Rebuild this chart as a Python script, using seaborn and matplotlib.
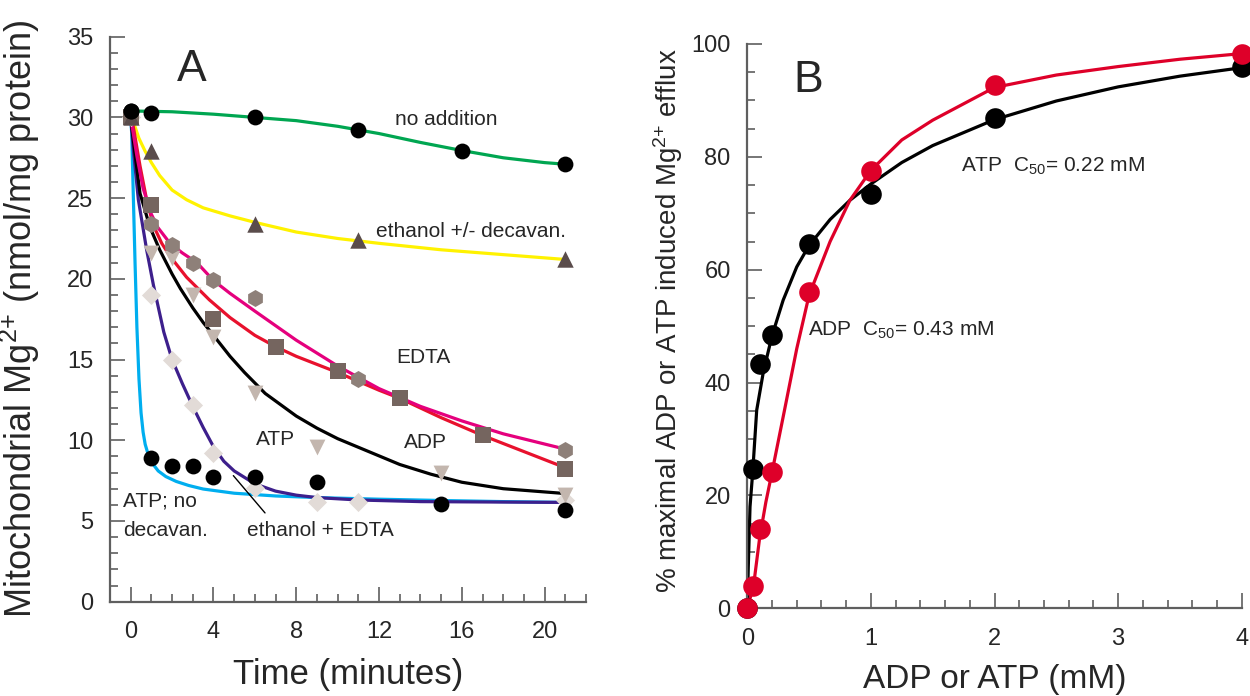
import numpy as np
import pandas as pd
import seaborn as sns
import matplotlib.pyplot as plt
from matplotlib.ticker import MultipleLocator

sns.set_style('ticks')
plt.rcParams['font.family'] = ['Liberation Sans', 'DejaVu Sans']
plt.rcParams['mathtext.default'] = 'regular'

# ---------------- panel A: measured points ----------------
no_add_t = [0, 1, 6, 11, 16, 21]
no_add_v = [30.4, 30.25, 30.0, 29.2, 27.9, 27.1]

eth_t = [0, 1, 6, 11, 21]
eth_v = [30.0, 27.9, 23.4, 22.4, 21.2]

edta_t = [0, 1, 4, 7, 10, 13, 17, 21]
edta_v = [30.0, 24.6, 17.5, 15.8, 14.3, 12.6, 10.3, 8.2]

hexa_t = [0, 1, 2, 3, 4, 6, 11, 21]
hexa_v = [30.0, 23.4, 22.1, 21.0, 19.9, 18.8, 13.8, 9.4]

atp_t = [0, 1, 2, 3, 4, 6, 9, 15, 21]
atp_v = [30.0, 21.6, 21.3, 19.0, 16.4, 12.9, 9.6, 7.95, 6.6]

eth_edta_t = [0, 1, 2, 3, 4, 6, 9, 11, 21]
eth_edta_v = [30.0, 19.0, 15.0, 12.2, 9.2, 7.05, 6.2, 6.2, 6.3]

nodec_t = [0, 1, 2, 3, 4, 6, 9, 15, 21]
nodec_v = [30.4, 8.9, 8.4, 8.4, 7.7, 7.7, 7.4, 6.05, 5.65]

# ---------------- panel A: fitted curves ----------------
green_t = [0, 2, 4, 6, 8, 10, 12, 14, 16, 18, 20, 21]
green_v = [30.4, 30.35, 30.2, 30.0, 29.8, 29.45, 29.0, 28.45, 27.95, 27.5, 27.2, 27.1]

yellow_t = [0, 0.2, 0.4, 0.7, 1, 1.4, 2, 2.7, 3.5, 4.8, 6, 8, 10, 12, 15, 18, 21]
yellow_v = [30.0, 29.45, 28.7, 27.9, 27.2, 26.4, 25.5, 24.9, 24.4, 23.9, 23.5, 22.9, 22.5, 22.2, 21.8, 21.5, 21.2]

pink_t = [0, 0.3, 0.6, 1, 1.3, 1.9, 2.5, 3.2, 4, 4.8, 6, 7, 8, 10, 12, 14, 16, 18, 21]
pink_v = [30.0, 27.6, 25.6, 24.0, 23.2, 22.2, 21.6, 21.0, 19.9, 19.1, 18.0, 17.1, 16.2, 14.6, 13.2, 12.1, 11.2, 10.4, 9.45]

red_t = [0, 0.13, 0.45, 0.77, 1.1, 1.5, 1.9, 2.7, 3.8, 4.8, 6, 7, 8, 10, 12, 13, 15, 17, 19, 21]
red_v = [30.0, 29.4, 27.0, 24.9, 23.3, 22.2, 21.4, 20.1, 18.7, 17.6, 16.5, 15.8, 15.2, 14.2, 13.1, 12.6, 11.4, 10.3, 9.3, 8.3]

black_t = [0, 0.2, 0.45, 0.93, 1.4, 2.0, 2.4, 3.0, 3.5, 4.0, 4.8, 5.5, 6.5, 8, 9, 10, 11.5, 13, 14.5, 16, 18, 21]
black_v = [30.0, 27.8, 25.3, 23.2, 21.8, 20.3, 19.4, 18.2, 17.3, 16.5, 15.2, 14.2, 12.9, 11.5, 10.75, 10.1, 9.3, 8.5, 7.9, 7.4, 7.0, 6.7]

purple_t = [0, 0.13, 0.37, 0.77, 1.1, 1.6, 2, 2.5, 3, 3.5, 4, 4.5, 5, 6, 7, 8, 9, 11, 14, 21]
purple_v = [30.0, 28.0, 24.9, 21.8, 19.6, 16.7, 15.0, 13.5, 12.1, 10.8, 9.6, 8.7, 8.1, 7.3, 6.85, 6.6, 6.45, 6.3, 6.2, 6.15]

cyan_t = [0, 0.05, 0.13, 0.21, 0.3, 0.4, 0.5, 0.6, 0.7, 0.85, 1.0, 1.33, 1.7, 2.2, 2.8, 3.5, 5, 7, 9, 12, 15, 18, 21]
cyan_v = [30.0, 29.0, 25.0, 21.0, 17.0, 13.8, 11.7, 10.5, 9.75, 9.1, 8.65, 8.1, 7.75, 7.45, 7.2, 6.98, 6.72, 6.55, 6.45, 6.35, 6.27, 6.2, 6.15]

# ---------------- panel B ----------------
atp_conc = [0, 0.05, 0.1, 0.2, 0.5, 1, 2, 4]
atp_eff = [0, 24.6, 43.3, 48.5, 64.6, 73.4, 86.8, 96.0]
adp_conc = [0, 0.05, 0.1, 0.2, 0.5, 1, 2, 4]
adp_eff = [0, 3.9, 14.0, 24.1, 56.1, 77.5, 92.7, 98.2]

atp_fit_x = [0, 0.008, 0.022, 0.043, 0.076, 0.13, 0.2, 0.29, 0.4, 0.5, 0.67, 0.83, 1.0, 1.25, 1.5, 2.0, 2.5, 3.0, 3.5, 4.0]
atp_fit_y = [0, 7.4, 18.0, 23.9, 35.1, 41.9, 48.3, 54.6, 60.5, 64.3, 68.9, 72.3, 75.2, 79.0, 82.0, 86.6, 89.9, 92.4, 94.3, 95.8]
adp_fit_x = [0, 0.05, 0.1, 0.15, 0.2, 0.3, 0.4, 0.5, 0.67, 0.83, 1.0, 1.25, 1.5, 2.0, 2.5, 3.0, 3.5, 4.0]
adp_fit_y = [0, 3.9, 12.5, 18.8, 24.1, 35.0, 46.0, 55.5, 65.0, 72.3, 77.6, 83.0, 86.5, 92.3, 94.5, 96.0, 97.3, 98.3]

W, H = 1250, 696
fig = plt.figure(figsize=(W / 100, H / 100), dpi=100)
axA = fig.add_axes([110 / W, 1 - 601.7 / H, (586 - 110) / W, (601.7 - 36.7) / H])
axB = fig.add_axes([747.3 / W, 1 - 608.3 / H, (1241.7 - 747.3) / W, (608.3 - 44) / H])

spine_col = '#5f5f5f'
lw = 2.3

# curves
curves = [
    (green_t, green_v, '#00a651'),
    (yellow_t, yellow_v, '#fff200'),
    (cyan_t, cyan_v, '#00aeef'),
    (purple_t, purple_v, '#3d1f8c'),
    (black_t, black_v, '#000000'),
    (red_t, red_v, '#e8112d'),
    (pink_t, pink_v, '#e5007d'),
]
for t, v, c in curves:
    sns.lineplot(x=t, y=v, ax=axA, color=c, lw=lw, sort=False, zorder=2)

# points
pts = [
    (eth_edta_t, eth_edta_v, 'D', '#e2dbd7', 95),
    (atp_t, atp_v, 'v', '#c3b6ae', 130),
    (hexa_t, hexa_v, 'h', '#8e8079', 150),
    (edta_t, edta_v, 's', '#75655f', 120),
    (eth_t, eth_v, '^', '#5a4c4b', 140),
    (nodec_t, nodec_v, 'o', '#000000', 130),
    (no_add_t, no_add_v, 'o', '#000000', 130),
]
for t, v, m, c, s in pts:
    sns.scatterplot(x=t, y=v, ax=axA, marker=m, color=c, s=s, linewidth=0,
                    zorder=3, clip_on=False)

axA.set_xlim(-1, 22)
axA.set_ylim(0, 35)
axA.xaxis.set_major_locator(MultipleLocator(4))
axA.xaxis.set_minor_locator(MultipleLocator(1))
axA.yaxis.set_major_locator(MultipleLocator(5))
axA.yaxis.set_minor_locator(MultipleLocator(1))
axA.set_xticks([0, 4, 8, 12, 16, 20])

fs_txt = 15
axA.text(2.96, 32.24, 'A', fontsize=32, ha='center', va='baseline')
axA.text(15.23, 29.5, 'no addition', fontsize=fs_txt, ha='center', va='baseline')
axA.text(11.85, 22.6, 'ethanol +/- decavan.', fontsize=fs_txt, ha='left', va='baseline')
axA.text(14.13, 14.79, 'EDTA', fontsize=fs_txt, ha='center', va='baseline')
axA.text(7.02, 9.68, 'ATP', fontsize=fs_txt, ha='center', va='baseline')
axA.text(14.26, 9.52, 'ADP', fontsize=fs_txt, ha='center', va='baseline')
axA.text(-0.36, 5.87, 'ATP; no', fontsize=fs_txt, ha='left', va='baseline')
axA.text(-0.36, 4.09, 'decavan.', fontsize=fs_txt, ha='left', va='baseline')
axA.text(5.6, 4.09, 'ethanol + EDTA', fontsize=fs_txt, ha='left', va='baseline')
axA.plot([4.96, 6.49], [7.81, 5.5], color='black', lw=1.0, zorder=4)

axA.set_xlabel('Time (minutes)', fontsize=25)
axA.set_ylabel('Mitochondrial Mg$^{2{+}}$ (nmol/mg protein)', fontsize=26)
axA.xaxis.set_label_coords(0.5, -0.100)
axA.yaxis.set_label_coords(-0.143, 0.5)

# ---------------- panel B drawing ----------------
sns.lineplot(x=atp_fit_x, y=atp_fit_y, ax=axB, color='black', lw=lw, sort=False, zorder=2)
sns.lineplot(x=adp_fit_x, y=adp_fit_y, ax=axB, color='#de0029', lw=lw, sort=False, zorder=2)
sns.scatterplot(x=atp_conc, y=atp_eff, ax=axB, color='black', s=220, linewidth=0,
                zorder=3, clip_on=False)
sns.scatterplot(x=adp_conc, y=adp_eff, ax=axB, color='#de0029', s=220, linewidth=0,
                zorder=4, clip_on=False)

axB.set_xlim(0, 4)
axB.set_ylim(0, 100)
axB.xaxis.set_major_locator(MultipleLocator(1))
axB.xaxis.set_minor_locator(MultipleLocator(0.2))
axB.yaxis.set_major_locator(MultipleLocator(20))
axB.yaxis.set_minor_locator(MultipleLocator(5))

axB.text(0.49, 91.5, 'B', fontsize=32, ha='center', va='baseline')
axB.text(1.73, 77.4, 'ATP  C$_{50}$= 0.22 mM', fontsize=fs_txt, ha='left', va='baseline')
axB.text(0.49, 48.25, 'ADP  C$_{50}$= 0.43 mM', fontsize=fs_txt, ha='left', va='baseline')

axB.set_xlabel('ADP or ATP (mM)', fontsize=24)
axB.set_ylabel('% maximal ADP or ATP induced Mg$^{2{+}}$ efflux', fontsize=20)
axB.xaxis.set_label_coords(0.5, -0.098)
axB.yaxis.set_label_coords(-0.126, 0.51)

for ax in (axA, axB):
    sns.despine(ax=ax)
    for side in ('left', 'bottom'):
        ax.spines[side].set_color(spine_col)
        ax.spines[side].set_linewidth(1.6)
    ax.tick_params(which='major', direction='in', length=11, width=1.2,
                   color=spine_col, labelsize=17, pad=14)
    ax.tick_params(which='minor', direction='in', length=5.5, width=1.2,
                   color=spine_col)
    ax.tick_params(axis='y', which='major', pad=12)
    ax.set_facecolor('white')

fig.savefig('out.png', dpi=100, facecolor='white')
